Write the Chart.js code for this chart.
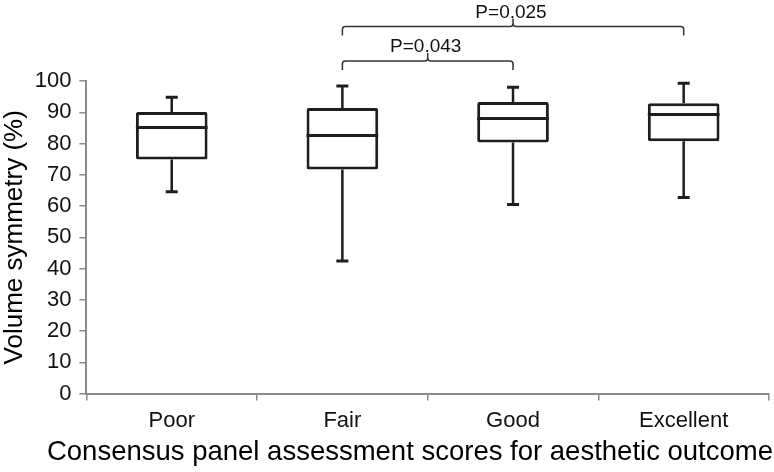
<!DOCTYPE html>
<html>
<head>
<meta charset="utf-8">
<script src="https://cdn.jsdelivr.net/npm/chart.js@4/dist/chart.umd.min.js"></script>
<style>
  html, body { margin: 0; padding: 0; background: #fff; }
  #wrap { width: 774px; height: 472px; }
</style>
</head>
<body>
<div id="wrap"><canvas id="boxChart" width="774" height="472"></canvas></div>
<script>
const categories = ['Poor', 'Fair', 'Good', 'Excellent'];
const whiskerLow = [64.6, 42.4, 60.5, 62.7];
const quartile1 = [74.9, 71.7, 80.3, 80.7];
const medians = [85.1, 82.6, 88.0, 89.3];
const quartile3 = [90.1, 91.4, 93.3, 92.9];
const whiskerHigh = [94.8, 98.4, 98.0, 99.3];

// significance brackets (category index from/to, level in axis units)
const pLabels = ['P=0.043', 'P=0.025'];
const pFrom = [1, 1];
const pTo = [2, 3];
const pLevel = [106.4, 117.4];

const xTitle = 'Consensus panel assessment scores for aesthetic outcome';

const INK = '#1e1e1e';
const FONT = '"Liberation Sans", Arial, sans-serif';

const boxExtras = {
  id: 'boxExtras',
  afterDatasetsDraw(chart) {
    const { ctx, chartArea } = chart;
    const x = chart.scales.x;
    const y = chart.scales.y;
    const bars = chart.getDatasetMeta(0).data;
    ctx.save();
    ctx.strokeStyle = INK;
    ctx.lineCap = 'butt';
    categories.forEach((c, i) => {
      const bar = bars[i];
      const cx = bar.x;
      const half = bar.width / 2;
      // median
      ctx.lineWidth = 3;
      ctx.beginPath();
      ctx.moveTo(cx - half, y.getPixelForValue(medians[i]));
      ctx.lineTo(cx + half, y.getPixelForValue(medians[i]));
      ctx.stroke();
      // whiskers
      ctx.lineWidth = 2.5;
      ctx.beginPath();
      ctx.moveTo(cx, y.getPixelForValue(quartile3[i]));
      ctx.lineTo(cx, y.getPixelForValue(whiskerHigh[i]));
      ctx.moveTo(cx, y.getPixelForValue(quartile1[i]));
      ctx.lineTo(cx, y.getPixelForValue(whiskerLow[i]));
      ctx.stroke();
      // caps
      ctx.lineWidth = 3;
      ctx.beginPath();
      ctx.moveTo(cx - 6, y.getPixelForValue(whiskerHigh[i]));
      ctx.lineTo(cx + 6, y.getPixelForValue(whiskerHigh[i]));
      ctx.moveTo(cx - 6, y.getPixelForValue(whiskerLow[i]));
      ctx.lineTo(cx + 6, y.getPixelForValue(whiskerLow[i]));
      ctx.stroke();
    });

    // brackets
    ctx.lineWidth = 1.5;
    ctx.strokeStyle = '#333';
    ctx.fillStyle = '#111';
    ctx.font = '19px ' + FONT;
    ctx.textAlign = 'center';
    ctx.textBaseline = 'middle';
    pLabels.forEach((label, k) => {
      const x1 = x.getPixelForValue(pFrom[k]);
      const x2 = x.getPixelForValue(pTo[k]);
      const by = y.getPixelForValue(pLevel[k]);
      const mid = (x1 + x2) / 2;
      const r = 3;
      ctx.beginPath();
      ctx.moveTo(x1, by + 9);
      ctx.lineTo(x1, by + r);
      ctx.quadraticCurveTo(x1, by, x1 + r, by);
      ctx.lineTo(mid - r, by);
      ctx.quadraticCurveTo(mid, by, mid, by - r);
      ctx.lineTo(mid, by - 8);
      ctx.moveTo(mid, by - r);
      ctx.quadraticCurveTo(mid, by, mid + r, by);
      ctx.lineTo(x2 - r, by);
      ctx.quadraticCurveTo(x2, by, x2, by + r);
      ctx.lineTo(x2, by + 9);
      ctx.stroke();
      ctx.fillText(label, mid - 2, by - 14);
    });

    // x axis title, drawn here so it is not squeezed to the axis width
    ctx.fillStyle = '#000';
    ctx.font = '27.5px ' + FONT;
    ctx.textAlign = 'right';
    ctx.textBaseline = 'alphabetic';
    ctx.fillText(xTitle, chartArea.right + 4, chart.height - 12);
    ctx.restore();
  }
};

new Chart(document.getElementById('boxChart'), {
  type: 'bar',
  data: {
    labels: categories,
    datasets: [{
      data: quartile1.map((q, i) => [q, quartile3[i]]),
      backgroundColor: '#ffffff',
      borderColor: INK,
      borderWidth: 3,
      borderSkipped: false,
      borderRadius: 2,
      barPercentage: 0.42,
      categoryPercentage: 1.0,
    }],
  },
  options: {
    responsive: false,
    animation: false,
    devicePixelRatio: 1,
    layout: { padding: { top: 81, right: 5, left: 2, bottom: 31 } },
    plugins: {
      legend: { display: false },
      tooltip: { enabled: false },
    },
    scales: {
      x: {
        grid: {
          display: true,
          drawOnChartArea: false,
          drawTicks: true,
          tickLength: 7,
          color: '#8a8a8a',
          lineWidth: 1.5,
          offset: true,
        },
        border: { display: true, color: '#8a8a8a', width: 2 },
        ticks: {
          color: '#111',
          font: { family: FONT, size: 22 },
          padding: 7,
        },
      },
      y: {
        min: 0,
        max: 100,
        ticks: {
          stepSize: 10,
          color: '#111',
          font: { family: FONT, size: 22 },
          padding: 8,
        },
        grid: {
          display: true,
          drawOnChartArea: false,
          drawTicks: true,
          tickLength: 7,
          color: '#8a8a8a',
          lineWidth: 1.5,
        },
        border: { display: true, color: '#8a8a8a', width: 2 },
        title: {
          display: true,
          text: 'Volume symmetry (%)',
          color: '#000',
          font: { family: FONT, size: 26, lineHeight: 0.95 },
          padding: { top: 0, bottom: 0 },
        },
      },
    },
  },
  plugins: [boxExtras],
});
</script>
</body>
</html>
